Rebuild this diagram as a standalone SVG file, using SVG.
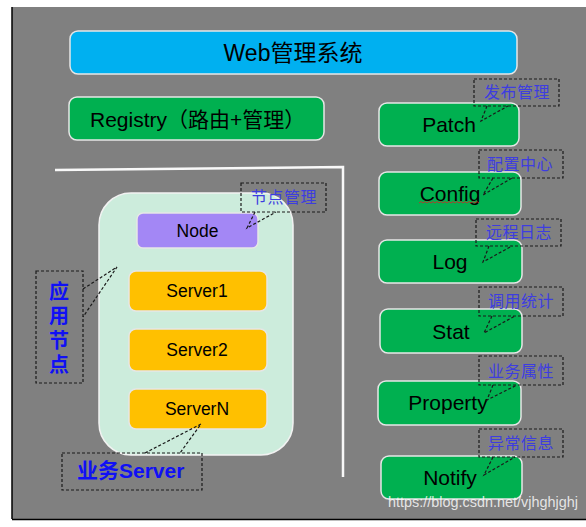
<svg xmlns="http://www.w3.org/2000/svg" width="586" height="527" viewBox="0 0 586 527">
<style>
.box{stroke:#e6e6e6;stroke-width:1.5}
.t{font-family:"Liberation Sans","Noto Sans CJK SC",sans-serif;fill:#000;text-anchor:middle}
.lbl{fill:none;stroke:#1a1a1a;stroke-width:1.2;stroke-dasharray:3,2}
.call{fill:none;stroke:#1a1a1a;stroke-width:1.2;stroke-dasharray:3,2}
.rl{font-family:"Noto Sans CJK SC","Liberation Sans",sans-serif;font-size:16px;fill:#3d3de0;text-anchor:middle;letter-spacing:0.5px}
.bl{font-family:"Liberation Sans","Noto Sans CJK SC",sans-serif;font-weight:bold;fill:#1010f5}
</style>
<rect x="0" y="0" width="586" height="527" fill="#ffffff"/>
<rect x="12" y="7" width="574" height="512" fill="#808080"/>
<line x1="12" y1="7" x2="12" y2="519" stroke="#000" stroke-width="1.5"/>
<line x1="12" y1="519.5" x2="586" y2="519.5" stroke="#000" stroke-width="1.5"/>
<polyline points="55,170 343,167 343,477" fill="none" stroke="#f8f8f8" stroke-width="2.5"/>

<g id="web">
<rect class="box" x="70" y="31" width="447" height="43" rx="8" fill="#00b0f0"/>
<text class="t" x="293" y="61" font-size="23">Web管理系统</text>
</g>
<g id="registry">
<rect class="box" x="69" y="97" width="255" height="43" rx="8" fill="#00b050"/>
<text class="t" x="90" y="127" font-size="21" style="text-anchor:start">Registry（路由+管理）</text>
</g>

<g id="app-container">
<rect x="99" y="193" width="194" height="262" rx="32" fill="#ccecdc" stroke="#f2f2f2" stroke-width="1.5"/>
</g>
<g id="node">
<rect class="box" x="137" y="213" width="121" height="35" rx="6" fill="#a387f5"/>
<text class="t" x="197.5" y="237" font-size="17.5">Node</text>
</g>
<g id="server1">
<rect class="box" x="129" y="271" width="138" height="40" rx="7" fill="#ffc000"/>
<text class="t" x="197" y="297" font-size="17.5">Server1</text>
</g>
<g id="server2">
<rect class="box" x="129" y="329" width="138" height="42" rx="7" fill="#ffc000"/>
<text class="t" x="197" y="356" font-size="17.5">Server2</text>
</g>
<g id="serverN">
<rect class="box" x="129" y="389" width="138" height="40" rx="7" fill="#ffc000"/>
<text class="t" x="197" y="415" font-size="17.5">ServerN</text>
</g>

<g id="patch">
<rect class="box" x="379" y="103" width="140" height="43" rx="8" fill="#00b050"/>
<text class="t" x="449" y="132" font-size="21">Patch</text>
</g>
<g id="config">
<rect class="box" x="379" y="172" width="142" height="43" rx="8" fill="#00b050"/>
<text class="t" x="450" y="201" font-size="21">Config</text>
<path d="M419,203 l2,-1.5 l2,1.5 l2,-1.5 l2,1.5 l2,-1.5 l2,1.5 l2,-1.5 l2,1.5 l2,-1.5 l2,1.5 l2,-1.5 l2,1.5 l2,-1.5 l2,1.5 l2,-1.5 l2,1.5 l2,-1.5 l2,1.5 l2,-1.5 l2,1.5 l2,-1.5 l2,1.5 l2,-1.5 l2,1.5 l2,-1.5 l2,1.5 l2,-1.5 l2,1.5 l2,-1.5 l2,1.5" fill="none" stroke="#e02020" stroke-width="0.8"/>
</g>
<g id="log">
<rect class="box" x="379" y="240" width="143" height="43" rx="8" fill="#00b050"/>
<text class="t" x="450" y="269" font-size="21">Log</text>
</g>
<g id="stat">
<rect class="box" x="380" y="309" width="142" height="44" rx="8" fill="#00b050"/>
<text class="t" x="451" y="339" font-size="21">Stat</text>
</g>
<g id="property">
<rect class="box" x="378" y="381" width="143" height="44" rx="8" fill="#00b050"/>
<text class="t" x="448" y="410" font-size="21">Property</text>
</g>
<g id="notify">
<rect class="box" x="381" y="456" width="141" height="43" rx="8" fill="#00b050"/>
<text class="t" x="450" y="485" font-size="21">Notify</text>
</g>

<g id="labels">
<g id="lbl-patch"><rect class="lbl" x="474" y="79" width="85" height="27"/><text class="rl" x="517" y="98">发布管理</text></g>
<g id="lbl-config"><rect class="lbl" x="479" y="150" width="84" height="28"/><text class="rl" x="520" y="170">配置中心</text></g>
<g id="lbl-log"><rect class="lbl" x="476" y="219" width="85" height="27"/><text class="rl" x="519" y="238">远程日志</text></g>
<g id="lbl-stat"><rect class="lbl" x="479" y="287" width="84" height="29"/><text class="rl" x="521" y="307">调用统计</text></g>
<g id="lbl-property"><rect class="lbl" x="479" y="356" width="84" height="29"/><text class="rl" x="521" y="377">业务属性</text></g>
<g id="lbl-notify"><rect class="lbl" x="479" y="429" width="84" height="28"/><text class="rl" x="521" y="449">异常信息</text></g>
<g id="lbl-node"><rect class="lbl" x="241" y="183" width="85" height="29"/><text class="rl" x="284" y="203">节点管理</text></g>
<g id="lbl-app"><rect class="lbl" x="36" y="271" width="47" height="112"/>
<text class="bl" font-size="20" x="59" y="299" text-anchor="middle">应</text>
<text class="bl" font-size="20" x="59" y="323" text-anchor="middle">用</text>
<text class="bl" font-size="20" x="59" y="348" text-anchor="middle">节</text>
<text class="bl" font-size="20" x="59" y="372" text-anchor="middle">点</text></g>
<g id="lbl-biz"><rect class="lbl" x="62" y="453" width="140" height="37"/><text class="bl" font-size="21" x="77" y="478">业务Server</text></g>
</g>

<g id="connectors">
<path class="call" d="M487,106 L481,121 L508,106"/>
<path class="call" d="M493,178 L483,195 L512,178"/>
<path class="call" d="M489,246 L483,262 L512,246"/>
<path class="call" d="M492,316 L484,333 L515,316"/>
<path class="call" d="M493,385 L487,400 L517,385"/>
<path class="call" d="M493,457 L484,475 L515,457"/>
<path class="call" d="M255,212 L247,228 L276,212"/>
<path class="call" d="M83,289 L117,267 L83,317"/>
<path class="call" d="M145,453 L201,424 L180,453"/>
</g>

<text x="388" y="507" font-family="Liberation Sans, sans-serif" font-size="14" textLength="190" lengthAdjust="spacingAndGlyphs" fill="#ffffff" fill-opacity="0.8">https://blog.csdn.net/vjhghjghj</text>
</svg>
